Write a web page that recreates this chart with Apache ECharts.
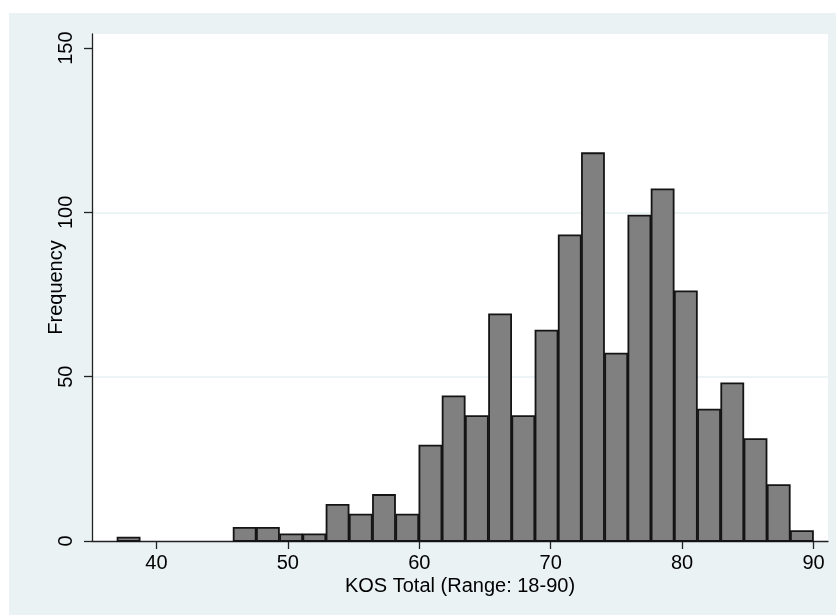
<!DOCTYPE html>
<html>
<head>
<meta charset="utf-8">
<title>KOS Total histogram</title>
<script src="https://cdn.jsdelivr.net/npm/echarts@6/dist/echarts.min.js"></script>
<style>
    html, body { margin: 0; padding: 0; background: #fff; }
    #main { width: 836px; height: 615px; }
</style>
</head>
<body>
<div id="main"></div>
<script>
// histogram bins: 30 bins of equal width from 37 to 90
var binStart = 37;
var binEnd = 90;
var counts = [1, 0, 0, 0, 0, 4, 4, 2, 2, 11,
              8, 14, 8, 29, 44, 38, 69, 38, 64, 93,
              118, 57, 99, 107, 76, 40, 48, 31, 17, 3];
var xTicks = [40, 50, 60, 70, 80, 90];
var yTicks = [0, 50, 100, 150];

(function () {
    //1. init
    var myChart = echarts.init(document.getElementById('main'));

    var binWidth = (binEnd - binStart) / counts.length;
    var bins = counts.map(function (c, i) {
        return [binStart + i * binWidth, binStart + (i + 1) * binWidth, c];
    });

    var font = '"Liberation Sans", Arial, Helvetica, sans-serif';

    //2. options
    var option = {
        backgroundColor: '#fff',
        animation: false,
        textStyle: { fontFamily: font },
        graphic: [
            {
                type: 'rect',
                z: -10,
                silent: true,
                shape: { x: 9, y: 13, width: 827, height: 602 },
                style: { fill: '#eaf2f3' }
            }
        ],
        grid: {
            left: 92,
            right: 8,
            top: 34,
            bottom: 74,
            show: true,
            backgroundColor: '#fff',
            borderWidth: 0
        },
        xAxis: {
            type: 'value',
            min: 35.1,
            max: 91.1,
            name: 'KOS Total (Range: 18-90)',
            nameLocation: 'middle',
            nameGap: 35,
            nameMoveOverlap: false,
            nameTextStyle: { fontSize: 20, color: '#000', fontFamily: font },
            axisLine: { lineStyle: { color: '#222', width: 1.3 } },
            axisTick: { customValues: xTicks, length: 8, lineStyle: { color: '#222', width: 1.3 } },
            axisLabel: { customValues: xTicks, fontSize: 20, color: '#000', margin: 12, fontFamily: font },
            splitLine: { show: false }
        },
        yAxis: {
            type: 'value',
            min: 0,
            max: 154.3,
            name: 'Frequency',
            nameLocation: 'middle',
            nameGap: 26,
            nameMoveOverlap: false,
            nameTextStyle: { fontSize: 20, color: '#000', fontFamily: font },
            axisLine: { show: true, lineStyle: { color: '#222', width: 1.3 } },
            axisTick: { show: true, customValues: yTicks, length: 8, lineStyle: { color: '#222', width: 1.3 } },
            axisLabel: { customValues: yTicks, rotate: 90, fontSize: 20, color: '#000', margin: 16, fontFamily: font },
            //gridlines only at 50 and 100
            splitLine: {
                show: true,
                lineStyle: { color: ['rgba(0,0,0,0)', '#e6f0f2', '#e6f0f2', 'rgba(0,0,0,0)'], width: 1.5 }
            }
        },
        series: [
            {
                type: 'custom',
                data: bins,
                encode: { x: [0, 1], y: 2 },
                renderItem: function (params, api) {
                    if (api.value(2) <= 0) {
                        return;
                    }
                    var p0 = api.coord([api.value(0), api.value(2)]);
                    var p1 = api.coord([api.value(1), 0]);
                    return {
                        type: 'rect',
                        shape: {
                            x: p0[0] + 0.6,
                            y: p0[1],
                            width: p1[0] - p0[0] - 1.2,
                            height: p1[1] - p0[1]
                        },
                        style: { fill: '#808080', stroke: '#141414', lineWidth: 1.8 }
                    };
                }
            }
        ]
    };

    //3. set
    myChart.setOption(option);
    window.addEventListener('resize', function () {
        myChart.resize();
    });
})();
</script>
</body>
</html>
